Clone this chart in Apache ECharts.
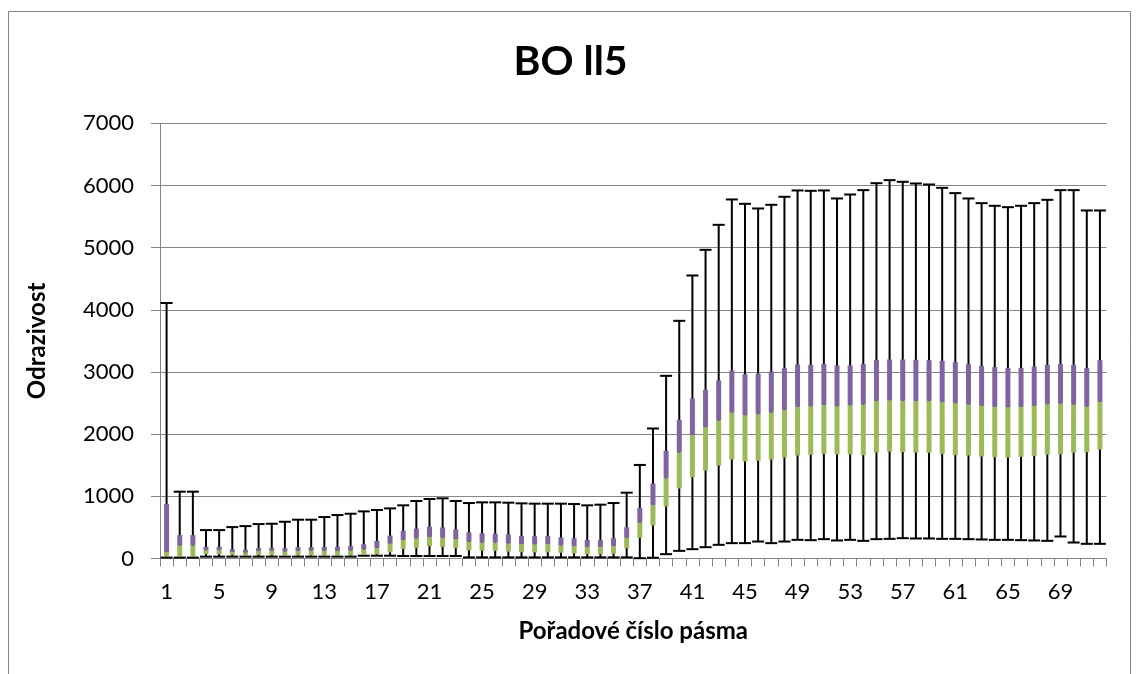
<!DOCTYPE html>
<html>
<head>
<meta charset="utf-8">
<script src="https://cdn.jsdelivr.net/npm/echarts@6/dist/echarts.min.js"></script>
<style>
html,body{margin:0;padding:0;background:#fff;}
#chart{width:1141px;height:674px;}
</style>
</head>
<body>
<div id="chart"></div>
<script>
// Band numbers 1..72
var categories = [];
for (var c = 1; c <= 72; c++) categories.push(String(c));

var yTicks = [0, 1000, 2000, 3000, 4000, 5000, 6000, 7000];

var minVals = [15,15,15,30,30,30,30,30,30,30,30,30,30,30,30,45,45,45,40,40,40,40,40,18,18,18,18,18,18,18,18,18,18,18,18,18,5,12,70,123,150,182,220,247,247,273,247,273,300,295,311,290,300,284,311,316,327,322,322,316,316,311,306,300,300,295,290,284,354,257,236,236];

var q1Vals = [30,28,28,71,71,58,47,58,52,45,52,50,47,45,50,58,66,100,157,170,200,186,165,132,125,124,111,103,100,100,92,82,70,69,76,165,335,531,836,1126,1308,1416,1496,1592,1560,1571,1592,1625,1657,1668,1684,1673,1673,1662,1705,1721,1710,1705,1700,1684,1662,1657,1641,1630,1625,1635,1651,1673,1678,1705,1710,1753];

var medianVals = [105,210,210,135,135,106,98,122,125,114,125,127,125,124,128,146,173,243,302,326,347,334,313,270,256,258,245,232,230,235,213,200,189,186,202,334,577,863,1292,1705,1989,2113,2220,2349,2306,2322,2349,2391,2440,2450,2472,2450,2466,2477,2536,2547,2536,2536,2536,2515,2499,2477,2456,2440,2434,2440,2456,2483,2493,2477,2445,2520];

var q3Vals = [876,376,376,188,188,150,140,167,172,167,183,183,183,188,200,230,281,369,445,480,511,500,470,420,404,400,388,363,358,363,340,326,300,298,326,503,813,1206,1732,2231,2574,2713,2863,3024,2965,2971,3008,3062,3121,3115,3131,3105,3105,3126,3196,3201,3201,3196,3190,3180,3158,3126,3099,3078,3062,3067,3088,3115,3126,3115,3062,3190];

var maxVals = [4110,1075,1075,457,457,505,521,554,559,591,624,624,667,699,720,758,780,806,855,925,957,968,925,892,903,903,898,887,882,882,882,876,855,866,892,1059,1505,2091,2938,3823,4552,4965,5367,5775,5705,5630,5689,5818,5920,5914,5920,5791,5855,5925,6037,6086,6059,6032,6016,5962,5877,5791,5716,5673,5651,5673,5716,5769,5925,5925,5598,5598];

var baseData = q1Vals.slice();
var greenData = medianVals.map(function(v, i){ return v - q1Vals[i]; });
var purpleData = q3Vals.map(function(v, i){ return v - medianVals[i]; });
var whiskerData = minVals.map(function(v, i){ return [i, v, maxVals[i]]; });

var FONT = 'Lato, "Open Sans", "DejaVu Sans", sans-serif';
var GRAY = '#868686';

var chart = echarts.init(document.getElementById('chart'), null, {renderer: 'canvas'});
chart.setOption({
  animation: false,
  backgroundColor: '#ffffff',
  title: {
    text: 'BO ll5',
    left: 'center',
    top: 36,
    textStyle: {fontFamily: FONT, fontWeight: 'bold', fontSize: 41, color: '#000'}
  },
  graphic: [{
    type: 'rect',
    shape: {x: 8.5, y: 11.5, width: 1122, height: 700},
    style: {fill: 'none', stroke: GRAY, lineWidth: 1},
    silent: true,
    z: 0
  }],
  grid: {left: 160, right: 34.5, top: 123.3, bottom: 115.5, containLabel: false},
  xAxis: {
    type: 'category',
    data: categories,
    boundaryGap: true,
    name: 'Pořadové číslo pásma',
    nameLocation: 'middle',
    nameGap: 61,
    nameTextStyle: {fontFamily: FONT, fontWeight: 'bold', fontSize: 24, color: '#000'},
    axisLine: {show: true, lineStyle: {color: GRAY, width: 1}},
    axisTick: {show: true, interval: 0, length: 8, lineStyle: {color: GRAY, width: 1}},
    axisLabel: {interval: 3, margin: 22, fontFamily: FONT, fontSize: 22, color: '#000'},
    splitLine: {show: false}
  },
  yAxis: {
    type: 'value',
    min: yTicks[0],
    max: yTicks[yTicks.length - 1],
    interval: 1000,
    name: 'Odrazivost',
    nameLocation: 'middle',
    nameGap: 111,
    nameRotate: 90,
    nameTextStyle: {fontFamily: FONT, fontWeight: 'bold', fontSize: 24, color: '#000'},
    axisLine: {show: true, lineStyle: {color: GRAY, width: 1}},
    axisTick: {show: true, length: 9, lineStyle: {color: GRAY, width: 1}},
    axisLabel: {
      margin: 26, fontFamily: FONT, fontSize: 22, color: '#000',
      formatter: function(v){ return String(v); }
    },
    splitLine: {show: true, lineStyle: {color: GRAY, width: 1}}
  },
  series: [
    {
      type: 'custom',
      name: 'whisker',
      z: 2,
      clip: false,
      encode: {x: 0, y: [1, 2]},
      data: whiskerData,
      renderItem: function(params, api) {
        var idx = api.value(0);
        var lo = api.coord([idx, api.value(1)]);
        var hi = api.coord([idx, api.value(2)]);
        var hw = 6;
        var st = {stroke: '#000', lineWidth: 2};
        return {
          type: 'group',
          children: [
            {type: 'line', shape: {x1: lo[0], y1: lo[1], x2: hi[0], y2: hi[1]}, style: st},
            {type: 'line', shape: {x1: hi[0] - hw, y1: hi[1], x2: hi[0] + hw, y2: hi[1]}, style: st},
            {type: 'line', shape: {x1: lo[0] - hw, y1: lo[1], x2: lo[0] + hw, y2: lo[1]}, style: st}
          ]
        };
      }
    },
    {
      type: 'bar', name: 'base', stack: 'box', barWidth: 5, z: 3,
      itemStyle: {color: 'rgba(0,0,0,0)'},
      data: baseData, silent: true
    },
    {
      type: 'bar', name: 'Q1-median', stack: 'box', barWidth: 5, z: 3,
      itemStyle: {color: '#9BBB59'},
      data: greenData
    },
    {
      type: 'bar', name: 'median-Q3', stack: 'box', barWidth: 5, z: 3,
      itemStyle: {color: '#8064A2'},
      data: purpleData
    }
  ]
});
</script>
</body>
</html>
